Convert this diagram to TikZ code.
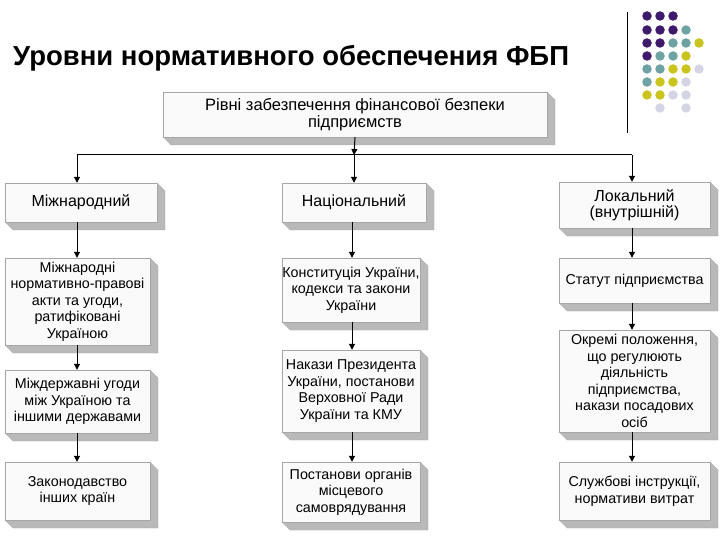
\documentclass[tikz,border=0pt]{standalone}
\usepackage{fontspec}
\setmainfont{Liberation Sans}
\usetikzlibrary{arrows.meta}
\definecolor{dP}{HTML}{3F1A6B}
\definecolor{dT}{HTML}{6FA3A3}
\definecolor{dY}{HTML}{C9C41E}
\definecolor{dL}{HTML}{D3D5E4}
\definecolor{dN}{HTML}{FFFFFF}
\tikzset{
  box/.style={draw=gray!70,fill=gray!4,inner sep=0pt,align=center,font=\fontsize{14.3}{16.5}\selectfont},
  sh/.style={fill=gray!55,draw=gray!70,line width=0.3pt},
  arr/.style={line width=1pt,-{Triangle[length=6pt,width=6pt]}},
  ln/.style={line width=1pt},
  dot/.style={circle,inner sep=0pt,minimum size=9.5pt}
}
\newcommand\bx[6]{%
  \fill[sh] (#2,#5) -- ({#2+8},{#5+8}) -- ({#4+8},{#5+8}) -- ({#4+8},{#3+8}) -- (#4,#3) -- cycle;
  \node[box,minimum width={(#4-#2)*1pt},minimum height={(#5-#3)*1pt}] (#1) at ({(#2+#4)/2},{(#3+#5)/2}) {#6};}
\begin{document}
\begin{tikzpicture}[x=1pt,y=-1pt]
\useasboundingbox (0,0) rectangle (720,540);
\node[anchor=west,inner sep=0pt,font=\fontsize{27.5}{30}\bfseries\selectfont] (title) at (13,58) {Уровни нормативного обеспечения ФБП};
\draw[line width=0.8pt] (627,12) -- (627,133);
\foreach \r/\lst in {16/{P,P,P},30/{P,P,P,T},43/{P,P,T,T,Y},56/{P,T,T,Y},69/{T,T,Y,Y,L},82/{T,Y,Y,L},95/{Y,Y,L,L},108/{N,L,N,L}}{
  \foreach \c [count=\i] in \lst {
    \node[dot,fill=d\c] at ({634+13*\i},\r) {};
  }}
\bx{top}{163}{92}{547}{137}{\fontsize{16.5}{19}\selectfont Рівні забезпечення фінансової безпеки\\\fontsize{16.5}{19}\selectfont підприємств}
\bx{l1}{5}{183}{157}{222}{\fontsize{16}{18}\selectfont Міжнародний}
\bx{m1}{282}{183}{426}{222}{\fontsize{16}{18}\selectfont Національний}
\bx{r1}{559}{182}{710}{228}{\fontsize{16}{18}\selectfont Локальний\\\fontsize{16}{18}\selectfont(внутрішній)}
\bx{l2}{5}{258}{150}{345}{Міжнародні\\нормативно-правові\\акти та угоди,\\ратифіковані\\Україною}
\bx{l3}{5}{370}{150}{433}{Міждержавні угоди\\між Україною та\\іншими державами}
\bx{l4}{5}{462}{150}{520}{Законодавство\\інших країн}
\bx{m2}{282}{258}{420}{322}{Конституція України,\\кодекси та закони\\України}
\bx{m3}{282}{350}{420}{432}{Накази Президента\\України, постанови\\Верховної Ради\\України та КМУ}
\bx{m4}{282}{462}{420}{522}{Постанови органів\\місцевого\\самоврядування}
\bx{r2}{559}{258}{710}{303}{Статут підприємства}
\bx{r3}{559}{330}{710}{432}{\fontsize{14.3}{15.8}\selectfont Окремі положення,\\що регулюють\\діяльність\\підприємства,\\накази посадових\\осіб}
\bx{r4}{559}{462}{710}{520}{Службові інструкції,\\нормативи витрат}
\coordinate (hub) at (354,155);
\coordinate (hl) at (77,155);
\coordinate (hr) at (632,155);
\draw[arr] (top.south) -- (hub);
\draw[arr] (hub) -- (hub |- m1.north);
\draw[ln] (hl) -- (hr);
\draw[arr] (hl) -- (hl |- l1.north);
\draw[arr] (hr) -- (hr |- r1.north);
\foreach \c/\x in {l/77,m/352,r/632}{
  \draw[arr] (\x,0 |- \c1.south) -- (\x,0 |- \c2.north);
  \draw[arr] (\x,0 |- \c2.south) -- (\x,0 |- \c3.north);
  \draw[arr] (\x,0 |- \c3.south) -- (\x,0 |- \c4.north);
}
\end{tikzpicture}
\end{document}
